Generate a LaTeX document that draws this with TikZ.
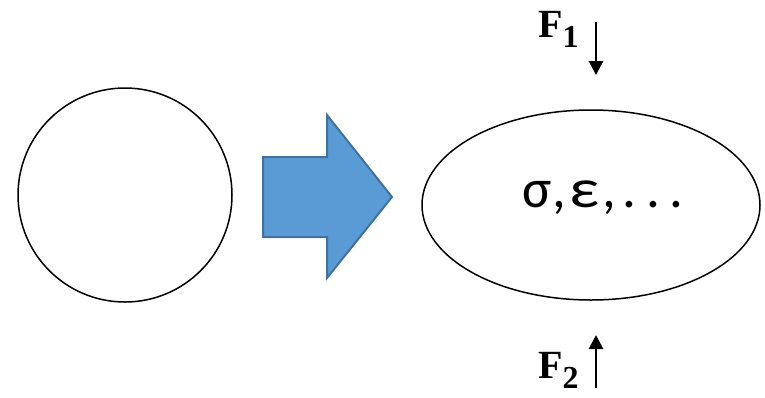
\documentclass[tikz,border=0pt]{standalone}
\usetikzlibrary{shapes.geometric,arrows.meta}
\usepackage{fontspec}
\usepackage{graphicx}
\setmainfont{Liberation Serif}
\newfontfamily\calib{Carlito}
\newcommand{\fsub}[1]{\raisebox{-10pt}{\fontsize{32}{32}\selectfont #1}}
\begin{document}
\begin{tikzpicture}[x=1pt,y=-1pt,
  shapeline/.style={draw=black,line width=1.5pt},
  bigarrow/.style={fill=arrowfill,draw=arrowdraw,line width=2pt,line join=miter},
  force/.style={-{Triangle[length=14pt,width=14pt]},line width=2.8pt},
  flabel/.style={font=\bfseries\fontsize{40}{40}\selectfont,inner sep=0pt}]
\definecolor{arrowfill}{HTML}{5B9BD5}
\definecolor{arrowdraw}{HTML}{41719C}
\useasboundingbox (0,0) rectangle (765,397);
\node[shapeline,circle,minimum size=214pt,inner sep=0pt] (circ) at (125,195) {};
\draw[bigarrow] (263,157) -- (327,157) -- (327,115) -- (392,197) -- (327,278) -- (327,237) -- (263,237) -- cycle;
\node[shapeline,ellipse,minimum width=338pt,minimum height=190pt,inner sep=0pt] (ell) at (591,205) {};
\node[font=\calib\fontsize{55}{55}\selectfont,inner sep=0pt,anchor=base west] (txt) at (522,207)
  {σ\hspace{1pt},\hspace{3pt}\scalebox{1.2}[1]{ε}\hspace{3pt},\hspace{7pt}.\hspace{9.5pt}.\hspace{9.5pt}.};
\coordinate (f1s) at (596,22);
\coordinate (f1e) at (596,75);
\coordinate (f2s) at (596,388);
\coordinate (f2e) at (596,335);
\draw[force] (f1s) -- (f1e);
\draw[force] (f2s) -- (f2e);
\node[flabel,anchor=base west] (F1) at (538,37) {F\fsub{1}};
\node[flabel,anchor=base west] (F2) at (538,378) {F\fsub{2}};
\end{tikzpicture}
\end{document}
